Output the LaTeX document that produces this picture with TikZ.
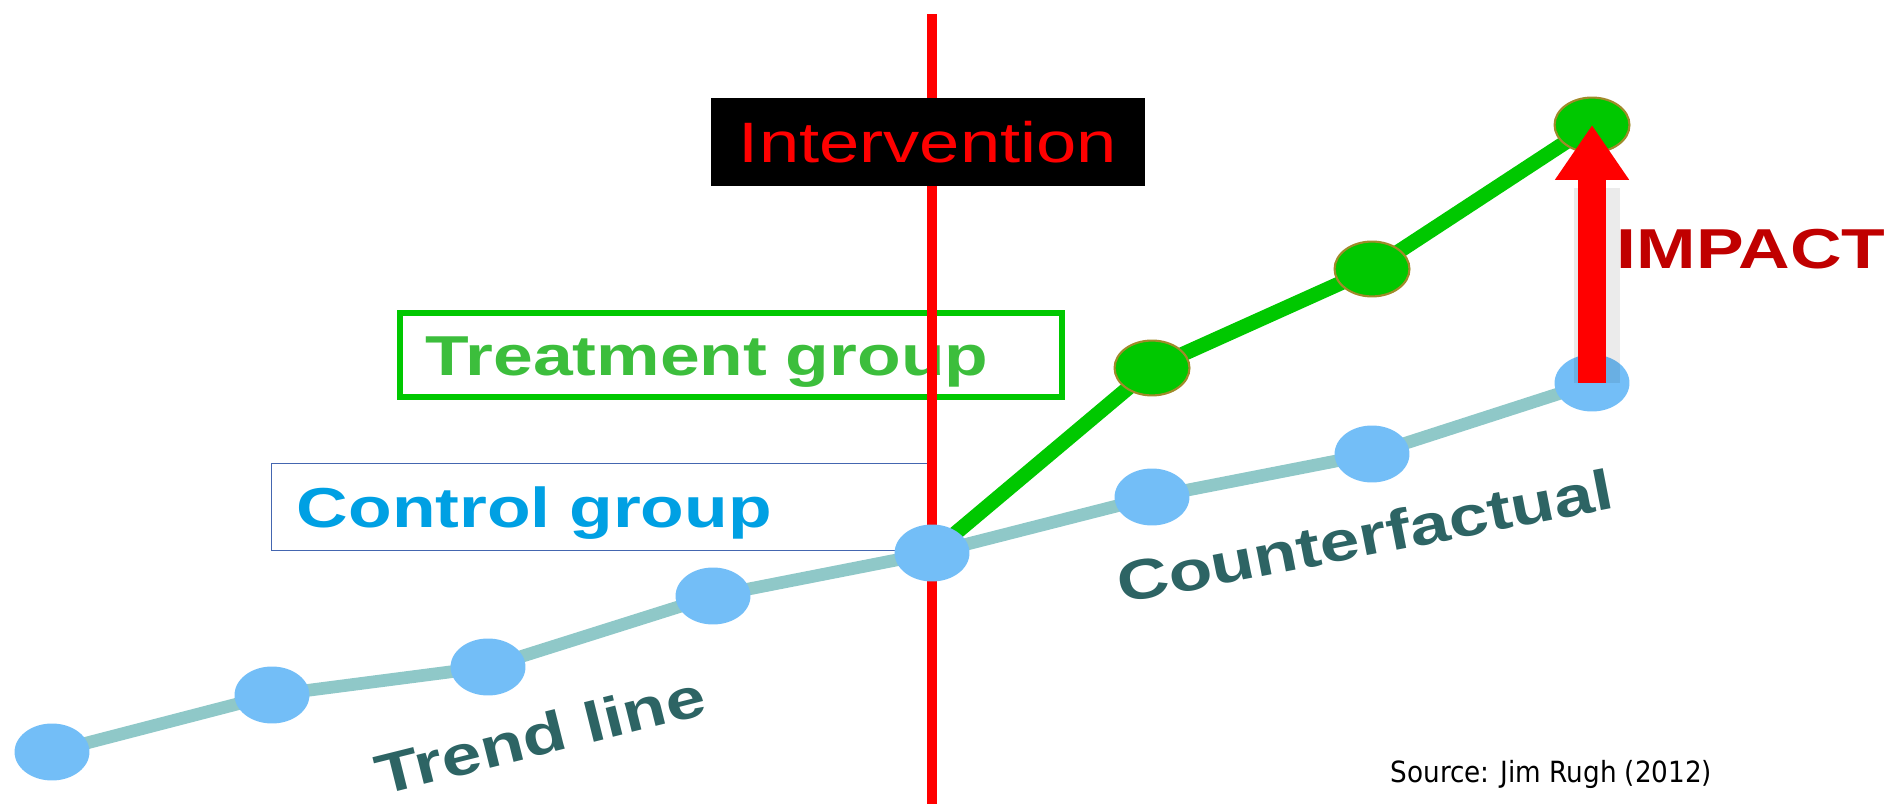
\documentclass[tikz,border=0pt]{standalone}
\usepackage{fontspec}
\setmainfont{Liberation Sans}[FakeStretch=1.27]
\newfontfamily\sourcefont{DejaVu Sans Condensed}
\usetikzlibrary{positioning,shapes.geometric}
\usetikzlibrary{arrows.meta}
\usetikzlibrary{backgrounds}
\definecolor{dotblue}{HTML}{73BEF7}
\definecolor{trendteal}{HTML}{8FC8C8}
\definecolor{treatgreen}{HTML}{00C800}
\definecolor{treattext}{HTML}{3CBE3C}
\definecolor{ctrltext}{HTML}{00A0E3}
\definecolor{ctrlframe}{HTML}{4466B0}
\definecolor{labelteal}{HTML}{2D6464}
\definecolor{impactred}{HTML}{C00000}
\definecolor{dotrim}{HTML}{A08A2A}

\begin{document}
\begin{tikzpicture}[x=0.01cm, y=-0.01cm]
\tikzset{
    every node/.style = {inner sep=0pt, font=\fontsize{16}{19}\selectfont\bfseries,
                         text height=11.5pt, text depth=0pt},
    ctrldot/.style  = {ellipse, fill=dotblue, text height=0pt,
                       minimum width=21.3pt, minimum height=16.2pt},
    treatdot/.style = {ellipse, fill=treatgreen, draw=dotrim, line width=.6pt, text height=0pt,
                       minimum width=21.3pt, minimum height=15.6pt},
    trend/.style    = {draw=trendteal, line width=3.6pt},
    treat/.style    = {draw=treatgreen, line width=4.2pt},
    cutline/.style  = {draw=red, line width=3.1pt},
    groupbox/.style = {rectangle, align=left, inner xsep=7.2pt, text width=173.6pt},
    slanted/.style  = {text=labelteal},
    impactarrow/.style = {draw=red, line width=8pt, -{Triangle[width=20pt,length=15.6pt]}},
    impactglow/.style  = {draw=black, opacity=.08, line width=13pt, shorten >=18pt}
}
\useasboundingbox (0,0) rectangle (1889,804);

% -------------------------------------------------------
\node[groupbox, draw=treatgreen, line width=1.7pt, minimum height=23.9pt, text=treattext]
    (treatbox) at (731,355) {Treatment group};

\node[groupbox, draw=ctrlframe, line width=.5pt, minimum height=24.8pt, text=ctrltext]
    (ctrlbox) at (602,507) {Control group};

\coordinate (cuttop) at (932,14);
\coordinate (cutbot) at (932,804);
\draw[cutline] (cuttop) -- (cutbot);

\node[fill=black, text=red, font=\fontsize{16.2}{19}\selectfont,
      minimum width=123.2pt, minimum height=25pt] (interv) at (928,142) {Intervention};

% -------------------------------------------------------
\node[ctrldot] (c1) at (52,752) {};
\node[ctrldot] (c2) at (272,695) {};
\node[ctrldot] (c3) at (488,667) {};
\node[ctrldot] (c4) at (713,596) {};
\node[ctrldot] (c5) at (932,553) {};
\node[ctrldot] (c6) at (1152,497) {};
\node[ctrldot] (c7) at (1372,454) {};
\node[ctrldot] (c8) at (1592,383) {};

\node[treatdot] (t6) at (1152,368) {};
\node[treatdot] (t7) at (1372,269) {};
\node[treatdot] (t8) at (1592,125) {};

\begin{scope}[on background layer]
\path[trend] (c1.center) edge (c2.center);
\path[trend] (c2.center) edge (c3.center);
\path[trend] (c3.center) edge (c4.center);
\path[trend] (c4.center) edge (c5.center);
\path[trend] (c5.center) edge (c6.center);
\path[trend] (c6.center) edge (c7.center);
\path[trend] (c7.center) edge (c8.center);

\path[treat] (c5.center) edge (t6.center);
\path[treat] (t6.center) edge (t7.center);
\path[treat] (t7.center) edge (t8.center);
\end{scope}

% -------------------------------------------------------
\draw[impactglow] ([xshift=1.5pt]c8.center) -- ([xshift=1.5pt]t8.center);
\draw[impactarrow] (c8.center) -- (t8.center);

\node[text=impactred, anchor=west] (impact) at (1616,248) {IMPACT};

\node[slanted, rotate=14] (trendlbl) at (540,735) {Trend line};
\node[slanted, rotate=11] (cflbl) at (1365,536) {Counterfactual};

\node[font=\sourcefont\fontsize{8.3}{10}\selectfont, anchor=base west]
    (source) at (1390,782) {Source: Jim Rugh (2012)};
\end{tikzpicture}
\end{document}
